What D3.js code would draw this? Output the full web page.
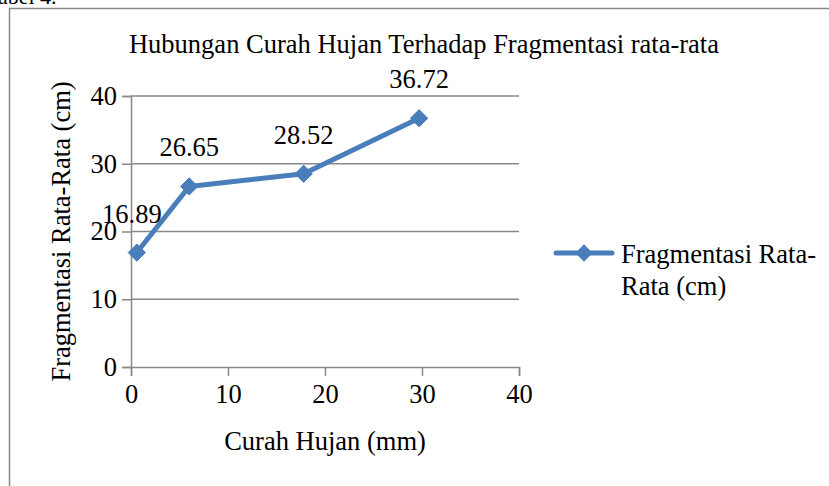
<!DOCTYPE html>
<html>
<head>
<meta charset="utf-8">
<script src="https://cdn.jsdelivr.net/npm/d3@7"></script>
<style>
  body { margin: 0; background: #fff; }
  svg text { font-family: "Liberation Serif", "Times New Roman", serif !important; fill: #000; }
</style>
</head>
<body>
<svg class="chart"></svg>
<script>
const curahHujan = [0.6, 6, 17.8, 29.7];
const fragmentasi = [16.89, 26.65, 28.52, 36.72];
const xTicks = [0, 10, 20, 30, 40];
const yTicks = [0, 10, 20, 30, 40];
const seriesName = ["Fragmentasi Rata-", "Rata (cm)"];

const canvas = {width: 829, height: 486};
const margin = {top: 96, left: 131};
const plot = {width: 388, height: 271};
const fontSize = "26.5px";

const svg = d3.select(".chart")
    .attr("width", canvas.width)
    .attr("height", canvas.height);

// outer frame (chart box continues past the picture edges)
svg.append("path")
    .attr("d", "M9.5," + canvas.height + "V8.5H" + canvas.width)
    .attr("fill", "none")
    .attr("stroke", "#888")
    .attr("stroke-width", 1.5);

svg.append("text")
    .attr("x", -14).attr("y", 4)
    .style("font-size", "22px")
    .text("Tabel 4.");

const x = d3.scaleLinear().domain([0, 40]).range([0, plot.width]);
const y = d3.scaleLinear().domain([0, 40]).range([plot.height, 0]);

const g = svg.append("g")
    .attr("transform", "translate(" + margin.left + "," + margin.top + ")");

// gridlines
g.selectAll(".grid")
    .data(yTicks.slice(1))
    .enter().append("line")
    .attr("x1", 0).attr("x2", plot.width)
    .attr("y1", d => y(d)).attr("y2", d => y(d))
    .attr("stroke", "#888").attr("stroke-width", 1.5);

const yAxis = d3.axisLeft(y).tickValues(yTicks).tickSize(9).tickPadding(5).tickFormat(d3.format("d"));
const xAxis = d3.axisBottom(x).tickValues(xTicks).tickSize(9).tickPadding(8).tickFormat(d3.format("d"));

g.append("g").call(yAxis);
g.append("g").attr("transform", "translate(0," + plot.height + ")").call(xAxis);

g.selectAll(".domain, .tick line")
    .attr("stroke", "#888").attr("stroke-width", 1.5);
g.selectAll(".tick text")
    .style("font-size", fontSize)
    .attr("fill", "#000");

// series line
const pts = curahHujan.map((c, i) => ({x: c, y: fragmentasi[i]}));
g.append("path")
    .datum(pts)
    .attr("fill", "none")
    .attr("stroke", "#4a7ebb")
    .attr("stroke-width", 5)
    .attr("stroke-linejoin", "round")
    .attr("d", d3.line().x(d => x(d.x)).y(d => y(d.y)));

const diamond = d3.symbol().type(d3.symbolDiamond2).size(190);
g.selectAll(".pt")
    .data(pts)
    .enter().append("path")
    .attr("d", diamond)
    .attr("transform", d => "translate(" + x(d.x) + "," + y(d.y) + ")")
    .attr("fill", "#4a7ebb")
    .attr("stroke", "#4a7ebb")
    .attr("stroke-width", 1);

g.selectAll(".lbl")
    .data(pts)
    .enter().append("text")
    .attr("x", (d, i) => x(d.x) - (i === 0 ? 5 : 0))
    .attr("y", d => y(d.y) - 30)
    .attr("text-anchor", "middle")
    .style("font-size", fontSize)
    .text(d => d.y.toFixed(2));

// titles
svg.append("text")
    .attr("x", 424).attr("y", 53)
    .attr("text-anchor", "middle")
    .style("font-size", fontSize)
    .text("Hubungan Curah Hujan Terhadap Fragmentasi rata-rata");

svg.append("text")
    .attr("x", margin.left + plot.width / 2)
    .attr("y", 450)
    .attr("text-anchor", "middle")
    .style("font-size", fontSize)
    .text("Curah Hujan (mm)");

svg.append("text")
    .attr("transform", "translate(70," + (margin.top + plot.height / 2) + ") rotate(-90)")
    .attr("text-anchor", "middle")
    .style("font-size", fontSize)
    .text("Fragmentasi Rata-Rata (cm)");

// legend
const leg = svg.append("g").attr("transform", "translate(556,253)");
leg.append("line")
    .attr("x1", 0).attr("x2", 56)
    .attr("stroke", "#4a7ebb").attr("stroke-width", 5).attr("stroke-linecap", "round");
leg.append("path")
    .attr("d", diamond)
    .attr("transform", "translate(28,0)")
    .attr("fill", "#4a7ebb");
leg.selectAll(".lt")
    .data(seriesName)
    .enter().append("text")
    .attr("x", 65)
    .attr("y", (d, i) => 10 + i * 32)
    .style("font-size", fontSize)
    .text(d => d);
</script>
</body>
</html>
